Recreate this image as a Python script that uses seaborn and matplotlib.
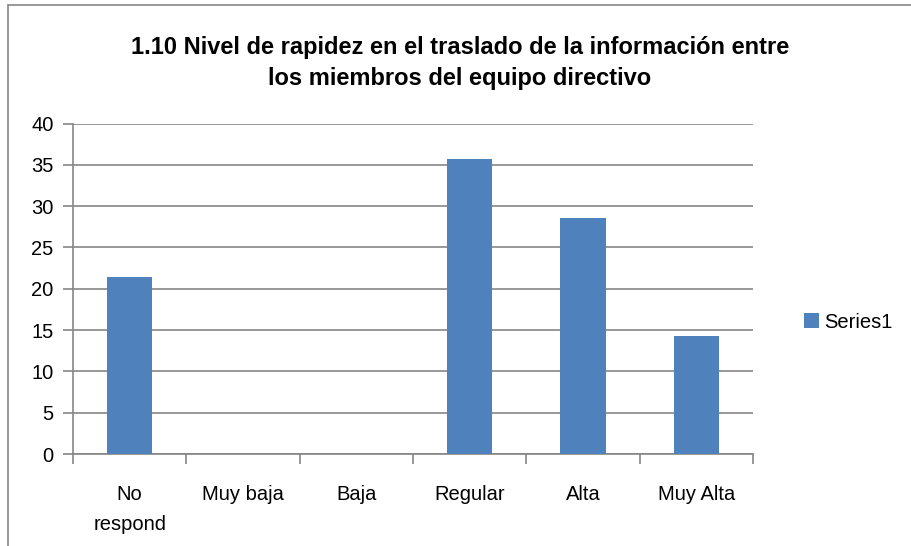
import matplotlib
matplotlib.use("Agg")
import matplotlib.pyplot as plt
import seaborn as sns
import pandas as pd
from matplotlib.patches import Rectangle

categories = ["No\nrespond", "Muy baja", "Baja", "Regular", "Alta", "Muy Alta"]
values = [21.43, 0, 0, 35.71, 28.57, 14.29]
yticks = [0, 5, 10, 15, 20, 25, 30, 35, 40]
title = "1.10 Nivel de rapidez en el traslado de la información entre\nlos miembros del equipo directivo"
series_name = "Series1"

sns.set_theme(style="white")
plt.rcParams['font.family'] = ['Liberation Sans', 'DejaVu Sans']
plt.rcParams['text.color'] = 'black'
plt.rcParams['xtick.color'] = 'black'
plt.rcParams['ytick.color'] = 'black'

W, H = 911, 546
fig = plt.figure(figsize=(W / 100, H / 100), dpi=100)
ax = fig.add_axes([73 / W, (H - 454) / H, 680 / W, 330.5 / H])

df = pd.DataFrame({"cat": categories, "val": values})
sns.barplot(data=df, x="cat", y="val", color="#4F81BD", width=0.4,
            saturation=1, label=series_name, ax=ax, zorder=3, linewidth=0)

ax.set_ylim(0, 40)
ax.set_xlim(-0.5, len(categories) - 0.5)
ax.set_yticks(yticks)
ax.set_yticklabels([str(t) for t in yticks], fontsize=14.5)
ax.yaxis.grid(True, color="#868686", linewidth=1.2, zorder=0)
ax.set_axisbelow(True)
ax.set_xlabel("")
ax.set_ylabel("")

# category tick marks at boundaries
ax.set_xticks([i - 0.5 for i in range(len(categories) + 1)], minor=False)
ax.set_xticklabels([""] * (len(categories) + 1))
ax.set_xticks(range(len(categories)), minor=True)
ax.set_xticklabels(categories, minor=True, fontsize=14.5, linespacing=1.75)
ax.tick_params(axis="x", which="major", direction="out", length=7, width=1.2,
               color="#868686", bottom=True)
ax.tick_params(axis="x", which="minor", length=0, pad=22, colors="black")
ax.tick_params(axis="y", direction="out", length=7, width=1.2, color="#868686",
               labelcolor="black", left=True, pad=7)

for s in ["top", "right"]:
    ax.spines[s].set_visible(False)
for s in ["left", "bottom"]:
    ax.spines[s].set_color("#868686")
    ax.spines[s].set_linewidth(1.2)

fig.text(460 / W, 1 - 63 / H, title, ha="center", va="center",
         fontsize=17, fontweight="bold", linespacing=1.45, color="black")

leg = ax.legend(loc="center left", bbox_to_anchor=(786 / W, 1 - 322 / H),
                bbox_transform=fig.transFigure, frameon=False, fontsize=14.5,
                handlelength=0.75, handleheight=0.75, handletextpad=0.25)
for t in leg.get_texts():
    t.set_color("black")

fig.patches.append(Rectangle((8 / W, -0.1), 1.2, (1 - 5 / H) + 0.1,
                             transform=fig.transFigure, fill=False,
                             edgecolor="#868686", linewidth=1.2))

fig.savefig("out.png", dpi=100)
